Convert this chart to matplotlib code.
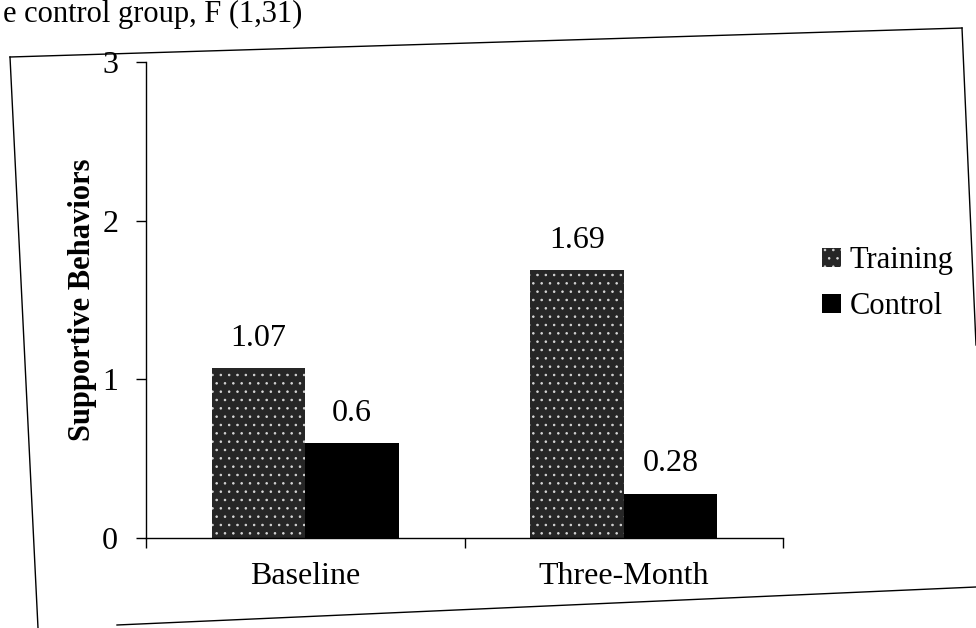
import numpy as np
import matplotlib
matplotlib.use("Agg")
import matplotlib.pyplot as plt
from matplotlib.lines import Line2D

# data
categories = ["Baseline", "Three-Month"]
training = [1.07, 1.69]
control = [0.6, 0.28]
series_names = ["Training", "Control"]
y_ticks = [0, 1, 2, 3]

plt.rcParams["font.family"] = ["Liberation Serif", "DejaVu Serif"]
plt.rcParams["hatch.linewidth"] = 0.6

W, H = 976, 628
fig = plt.figure(figsize=(W / 100, H / 100), dpi=100)

def fx(px):
    return px / W

def fy(py):
    return 1 - py / H

# scanned page border (slightly skewed) and the text line above it
fig.add_artist(Line2D([fx(10), fx(962)], [fy(57), fy(28)], color="black", lw=1.0))
fig.add_artist(Line2D([fx(10), fx(38)], [fy(57), fy(628)], color="black", lw=1.0))
fig.add_artist(Line2D([fx(962), fx(976)], [fy(28), fy(345)], color="black", lw=1.0))
fig.add_artist(Line2D([fx(117), fx(976)], [fy(625), fy(587)], color="black", lw=1.0))
fig.text(fx(3), fy(22), "e control group, F (1,31)", fontsize=22, va="baseline",
         ha="left", color="black")

ax = fig.add_axes([fx(146), fy(538), fx(783 - 146), (538 - 62) / H])

x = np.arange(len(categories)) + 0.5
w = 0.293
bars_t = ax.bar(x - w / 2, training, w, color="#262626", edgecolor="#d8d8d8",
                hatch="..", linewidth=0, label=series_names[0])
bars_c = ax.bar(x + w / 2, control, w, color="black", linewidth=0,
                label=series_names[1])

for bars, vals in [(bars_t, training), (bars_c, control)]:
    for b, v in zip(bars, vals):
        ax.annotate(f"{v:g}", (b.get_x() + b.get_width() / 2, v),
                    xytext=(0, 11), textcoords="offset points",
                    ha="center", va="bottom", fontsize=23)

ax.set_xlim(0, len(categories))
ax.set_ylim(0, 3)
ax.set_yticks(y_ticks)
ax.set_xticks(np.arange(len(categories) + 1))
ax.set_xticklabels([])
ax.set_xticks(x, minor=True)
ax.set_xticklabels(categories, minor=True, fontsize=23)
ax.tick_params(axis="x", which="minor", length=0, pad=17)
ax.tick_params(axis="x", which="major", direction="out", length=7, width=1)
ax.tick_params(axis="y", direction="out", length=7, width=1, labelsize=23, pad=13)

for s in ["top", "right"]:
    ax.spines[s].set_visible(False)
ax.spines["left"].set_linewidth(1)
ax.spines["bottom"].set_linewidth(1)

ax.set_ylabel("Supportive Behaviors", fontsize=22, fontweight="bold", labelpad=4)

fig.legend(loc="upper left", bbox_to_anchor=(fx(810), fy(234)), frameon=False,
           fontsize=22, handlelength=0.6, handleheight=0.6, handletextpad=0.3,
           labelspacing=0.55, borderaxespad=0)

fig.savefig("out.png", dpi=100)
